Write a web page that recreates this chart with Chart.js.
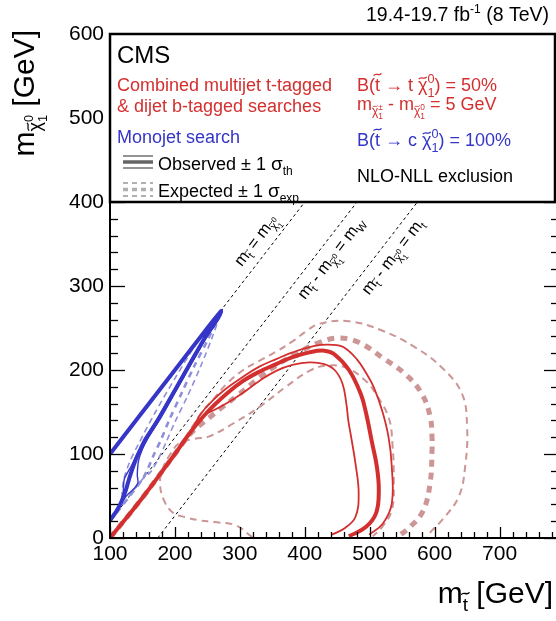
<!DOCTYPE html>
<html><head><meta charset="utf-8">
<script src="https://cdn.jsdelivr.net/npm/chart.js@4.4.1/dist/chart.umd.min.js"></script>
<style>
html,body{margin:0;padding:0;background:#fff;overflow:hidden;width:556px;height:621px;}
#wrap{position:relative;width:560px;height:621px;}
canvas{display:block;}
</style></head><body>
<div id="wrap"><canvas id="c" width="560" height="621" style="width:560px;height:621px"></canvas></div>
<script>
// ---------------- data (GeV) ----------------
const xTickValues = [100, 200, 300, 400, 500, 600, 700];
const yTickValues = [0, 100, 200, 300, 400, 500, 600];
const diagMassDiff = [0, 80.4, 173.5]; // m_stop - m_LSP = 0, m_W, m_t

// Combined multijet t-tagged & dijet b-tagged (red)
const redObs = [[100,0],[150,48],[200,100],[225,127],[250,150],[280,172],[305,187],[330,198],[356,207],[380,215],[407,221],[430,223],[445,219],[468,200],[486,172],[494,150],[504,112],[511,85],[514,57],[510,30],[494,13],[468,2]];
const redObsUp = [[100,0],[150,48],[200,100],[225,128],[240,148],[260,165],[279,178],[305,192],[330,204],[356,213],[381,221],[417,229],[443,230],[460,227],[480,213],[494,197],[506,180],[519,152],[529,120],[534,85],[534,41],[520,17],[499,4]];
const redObsDn = [[100,0],[150,48],[200,100],[225,126],[243,145],[262,153],[279,160],[305,173],[330,187],[356,199],[381,206],[407,209],[430,207],[446,200],[458,184],[464,160],[467,140],[471,122],[478,89],[483,53],[478,25],[462,12],[442,4]];
const redExp = [[100,0],[150,48],[200,100],[225,125],[251,142],[275,157],[297,170],[330,191],[355,205],[381,217],[420,232],[452,238],[483,233],[519,215],[555,195],[580,172],[593,145],[596,120],[596,104],[593,65],[582,32],[562,13],[542,1]];
const redExpUp = [[195,95],[215,118],[240,148],[260,166],[279,183],[305,200],[330,211],[356,222],[381,234],[402,246],[422,255],[468,258],[519,247],[570,227],[611,203],[642,172],[650,132],[647,85],[637,49],[611,21],[596,9],[588,1]];
const redExpDn = [[319,1],[294,15],[260,19],[238,21],[215,25],[197,30],[183,45],[177,65],[181,82],[193,100],[207,113],[230,118],[253,121],[289,136],[330,156],[371,180],[407,199],[432,205],[463,203],[494,187],[509,172],[529,144],[535,112],[537,65],[534,33],[519,13],[505,2]];

// Monojet search (blue)
const blueObs = [[100,100],[150,150],[200,200],[250,250],[271,270],[268,264],[258,252],[245,237],[225,210],[200,176],[175,142],[155,118],[146,104],[139,92],[130,72],[124,56],[118,44],[110,32],[100,21]];
const blueObsUp = [[100,100],[150,150],[200,200],[250,250],[273,272],[271,266],[261,253],[248,238],[228,211],[203,177],[178,143],[158,118],[150,106],[144,92],[142,75],[143,66],[136,58],[125,50],[100,21]];
const blueObsDn = [[100,100],[150,150],[200,200],[250,250],[268,266],[256,250],[242,234],[222,208],[197,174],[172,141],[153,116],[143,102],[133,86],[122,70],[120,52],[115,40],[100,21]];
const blueExp = [[100,20],[150,70],[158,82],[168,100],[178,116],[191,140],[210,172],[230,205],[250,235],[262,255],[270,268]];
const blueExpUp = [[118,48],[121,69],[130,90],[144,112],[170,150],[200,190],[240,240],[268,268]];
const blueExpDn = [[100,20],[150,70],[162,78],[175,95],[187,115],[200,138],[220,170],[240,205],[258,240],[268,262]];

// ---------------- styles ----------------
const FONT = '"Liberation Sans", Arial, Helvetica, sans-serif';
const RED = '#d42f2f', RED_L = '#cc9696', BLUE = '#3535c8', BLUE_L = '#8f8fd9';

const pts = a => a.map(p => ({x: p[0], y: p[1]}));
function ds(arr, color, width, dash, tension, order){
  return {data: pts(arr), showLine: true, borderColor: color, borderWidth: width, borderDash: dash,
    pointRadius: 0, tension: tension, fill: false, order: order, borderCapStyle: 'butt'};
}
const diagDatasets = diagMassDiff.map(c => ({
  data: [{x: Math.max(100, c), y: Math.max(100, c) - c}, {x: c + 700, y: 700}],
  showLine: true, borderColor: '#000', borderWidth: 1, borderDash: [3, 3], pointRadius: 0, order: 20
}));

const datasets = [
  ...diagDatasets,
  ds(redExpUp, RED_L, 2, [7, 5], 0.4, 10),
  ds(redExpDn, RED_L, 2, [7, 5], 0.4, 10),
  ds(redExp, RED_L, 5, [7, 6], 0.4, 9),
  ds(blueExpUp, BLUE_L, 1.6, [6, 4], 0.3, 8),
  ds(blueExpDn, BLUE_L, 1.6, [6, 4], 0.3, 8),
  ds(blueExp, BLUE_L, 2.6, [6, 5], 0.3, 7),
  ds(redObsUp, RED, 1.8, [], 0.4, 3),
  ds(redObsDn, RED, 1.8, [], 0.4, 3),
  ds(blueObsUp, BLUE, 1.4, [], 0.2, 3),
  ds(blueObsDn, BLUE, 1.4, [], 0.2, 3),
  ds(redObs, RED, 4, [], 0.4, 1),
  ds(blueObs, BLUE, 4, [], 0.2, 1)
];

// ---------------- rich text helper ----------------
function tilde(ctx, cx, cy, s, color){
  const hw = s * 0.22, a = s * 0.06;
  ctx.save();
  ctx.strokeStyle = color; ctx.lineWidth = Math.max(0.8, s * 0.07);
  ctx.beginPath();
  ctx.moveTo(cx - hw, cy + a);
  ctx.bezierCurveTo(cx - hw / 3, cy - 2.2 * a, cx + hw / 3, cy + 2.2 * a, cx + hw, cy - a);
  ctx.stroke();
  ctx.restore();
}
function rich(ctx, parts, x, y, align, color){
  const items = []; let cur = 0, lastStart = 0;
  for (const p of parts){
    ctx.font = p.s + 'px ' + FONT;
    const w = ctx.measureText(p.t).width;
    const sx = p.stack ? lastStart : cur;
    if (!p.stack) lastStart = sx;
    items.push({p, sx, w});
    cur = p.stack ? Math.max(cur, sx + w) : sx + w;
  }
  const x0 = align === 'right' ? x - cur : align === 'center' ? x - cur / 2 : x;
  ctx.textAlign = 'left'; ctx.textBaseline = 'alphabetic';
  for (const {p, sx, w} of items){
    const col = p.c || color;
    ctx.font = p.s + 'px ' + FONT; ctx.fillStyle = col;
    ctx.fillText(p.t, x0 + sx, y + (p.dy || 0));
    if (p.acc) tilde(ctx, x0 + sx + w / 2, y + (p.dy || 0) - p.s * (p.t === 't' ? 0.92 : 0.72), p.s, col);
  }
  return cur;
}
const chi = (s, dy, sup, sub) => [
  {t: 'χ', s: s, dy: dy, acc: 1},
  {t: sup, s: s * 0.7, dy: dy - s * 0.45},
  {t: sub, s: s * 0.7, dy: dy + s * 0.35, stack: 1}
];

// ---------------- overlay plugin ----------------
const overlay = {
  id: 'overlay',
  afterDraw(chart){
    const ctx = chart.ctx, xs = chart.scales.x, ys = chart.scales.y, a = chart.chartArea;
    const line = (x1, y1, x2, y2) => { ctx.beginPath(); ctx.moveTo(x1, y1); ctx.lineTo(x2, y2); ctx.stroke(); };
    ctx.save();
    // tick marks (inside)
    ctx.strokeStyle = '#000'; ctx.lineWidth = 1.3;
    for (let v = 100; v <= 790; v += 20){
      const p = Math.round(xs.getPixelForValue(v)) + 0.5, major = v % 100 === 0;
      line(p, a.bottom, p, a.bottom - (major ? 11 : 6));
    }
    for (let v = 0; v <= 600; v += 20){
      const p = Math.round(ys.getPixelForValue(v)) + 0.5, major = v % 100 === 0;
      line(a.left, p, a.left + (major ? 15 : 8), p);
      line(a.right, p, a.right - (major ? 14 : 7), p);
    }
    // diagonal labels
    const labS = 16.5, sub = 11, sdy = 4;
    const labels = [
      {c: diagMassDiff[0], yc: 343, off: -10, parts: [{t:'m',s:labS},{t:'t',s:sub,dy:sdy,acc:1},{t:' = m',s:labS},...chi(sub, sdy, '0', '1')]},
      {c: diagMassDiff[1], yc: 343, off: 19, parts: [{t:'m',s:labS},{t:'t',s:sub,dy:sdy,acc:1},{t:' - m',s:labS},...chi(sub, sdy, '0', '1'),{t:' = m',s:labS},{t:'W',s:sub,dy:sdy}]},
      {c: diagMassDiff[2], yc: 345, off: 19, parts: [{t:'m',s:labS},{t:'t',s:sub,dy:sdy,acc:1},{t:' - m',s:labS},...chi(sub, sdy, '0', '1'),{t:' = m',s:labS},{t:'t',s:sub,dy:sdy}]}
    ];
    ctx.save();
    ctx.beginPath(); ctx.rect(a.left, a.top, a.right - a.left, a.bottom - a.top); ctx.clip();
    for (const L of labels){
      const px = xs.getPixelForValue(L.yc + L.c), py = ys.getPixelForValue(L.yc);
      const ang = Math.atan2(ys.getPixelForValue(L.yc + 100) - py, xs.getPixelForValue(L.yc + L.c + 100) - px);
      ctx.save(); ctx.translate(px, py); ctx.rotate(ang);
      rich(ctx, L.parts, 0, L.off, 'center', '#000');
      ctx.restore();
    }
    ctx.restore();
    // legend box
    const yTop = ys.getPixelForValue(600), yBot = ys.getPixelForValue(400);
    const bx = a.left, bw = a.right - 3 - a.left;
    ctx.fillStyle = '#fff'; ctx.fillRect(bx, yTop, bw, yBot - yTop);
    ctx.strokeStyle = '#000'; ctx.lineWidth = 2.5; ctx.strokeRect(bx, yTop, bw, yBot - yTop);
    // axis frame
    ctx.lineWidth = 2;
    line(a.left, a.top, a.left, a.bottom + 1);
    line(a.left - 1, a.bottom, a.right, a.bottom);
    line(a.right, a.top, a.right, a.bottom);
    // legend contents
    rich(ctx, [{t:'CMS', s:24}], 117, 63, 'left', '#000');
    rich(ctx, [{t:'Combined multijet t-tagged', s:18}], 117, 91, 'left', RED);
    rich(ctx, [{t:'& dijet b-tagged searches', s:18}], 117, 112, 'left', RED);
    rich(ctx, [{t:'Monojet search', s:18}], 117, 143, 'left', BLUE);
    // legend samples
    ctx.strokeStyle = '#888'; ctx.lineWidth = 1.8; ctx.setLineDash([]);
    line(123, 156, 153, 156); line(123, 168, 153, 168);
    ctx.strokeStyle = '#666'; ctx.lineWidth = 3.5; line(123, 162, 153, 162);
    ctx.strokeStyle = '#b0b0b0'; ctx.lineWidth = 1.8; ctx.setLineDash([5, 4]);
    line(123, 183, 153, 183); line(123, 196, 153, 196);
    ctx.lineWidth = 3.5; line(123, 189.5, 153, 189.5);
    ctx.setLineDash([]);
    rich(ctx, [{t:'Observed', s:18},{t:' ± 1 ', s:18},{t:'σ', s:19},{t:'th', s:12, dy:5}], 158, 170, 'left', '#000');
    rich(ctx, [{t:'Expected', s:18},{t:' ± 1 ', s:18},{t:'σ', s:19},{t:'exp', s:12, dy:5}], 158, 197, 'left', '#000');
    // right column
    rich(ctx, [{t:'B(', s:18},{t:'t', s:18, acc:1},{t:' → t ', s:18},...chi(18, 0, '0', '1'),{t:') = 50%', s:18}], 357, 91, 'left', RED);
    rich(ctx, [{t:'m', s:18},...chi(12, 5, '±', '1'),{t:' - m', s:18},...chi(12, 5, '0', '1'),{t:' = 5 GeV', s:18}], 357, 110, 'left', RED);
    rich(ctx, [{t:'B(', s:18},{t:'t', s:18, acc:1},{t:' → c ', s:18},...chi(18, 0, '0', '1'),{t:') = 100%', s:18}], 357, 146, 'left', BLUE);
    rich(ctx, [{t:'NLO-NLL exclusion', s:18}], 357, 182, 'left', '#000');
    // top text
    rich(ctx, [{t:'19.4-19.7 fb', s:19.5},{t:'-1', s:12, dy:-8},{t:' (8 TeV)', s:19.5}], 549, 21, 'right', '#000');
    // x title
    rich(ctx, [{t:'m', s:30},{t:'t', s:19, dy:8, acc:1},{t:' [GeV]', s:30}], 553, 603, 'right', '#000');
    // y title (rotated)
    ctx.save(); ctx.translate(34, 0); ctx.rotate(-Math.PI / 2);
    rich(ctx, [{t:'m', s:30},...chi(18, 7, '0', '1'),{t:' [GeV]', s:30}], -30, 0, 'right', '#000');
    ctx.restore();
    ctx.restore();
  }
};

new Chart(document.getElementById('c'), {
  type: 'scatter',
  data: {datasets: datasets},
  options: {
    responsive: false, animation: false, devicePixelRatio: 1,
    layout: {padding: {top: 34, right: 2, bottom: 0, left: 0}},
    plugins: {legend: {display: false}, tooltip: {enabled: false}},
    scales: {
      x: {type: 'linear', min: 100, max: 790,
        afterBuildTicks: s => { s.ticks = xTickValues.map(v => ({value: v})); },
        afterFit: s => { s.height = 83; },
        ticks: {font: {family: FONT, size: 21}, color: '#000', padding: 4, maxRotation: 0, autoSkip: false},
        grid: {display: false, drawTicks: false}, border: {display: false}},
      y: {type: 'linear', min: 0, max: 600,
        afterBuildTicks: s => { s.ticks = yTickValues.map(v => ({value: v})); },
        afterFit: s => { s.width = 110; },
        ticks: {font: {family: FONT, size: 21}, color: '#000', padding: 6, autoSkip: false},
        grid: {display: false, drawTicks: false}, border: {display: false}}
    }
  },
  plugins: [overlay]
});
</script></body></html>
